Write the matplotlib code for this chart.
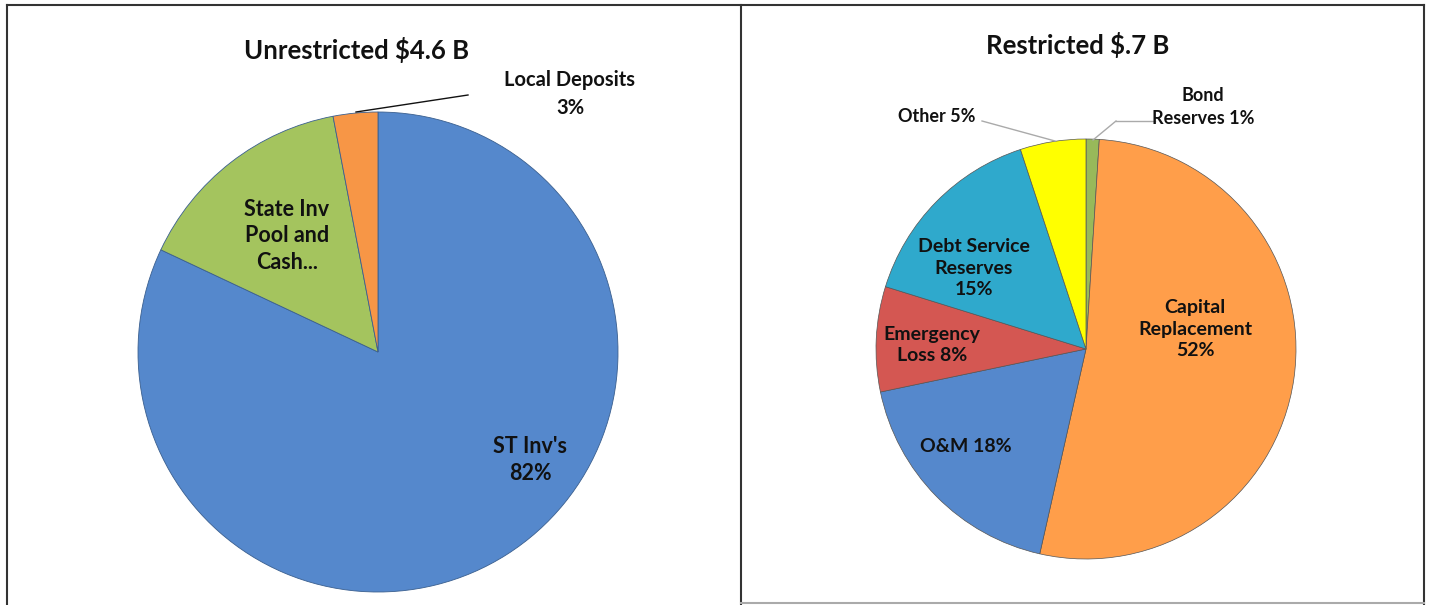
import matplotlib.pyplot as plt

plt.rcParams['font.family'] = ['Lato', 'DejaVu Sans']

# left pie: unrestricted
unr_labels = ["ST Inv's", "State Inv Pool and Cash...", "Local Deposits"]
unr_values = [82, 15, 3]
unr_colors = ['#5588CC', '#A4C45E', '#F79646']

# right pie: restricted
res_labels = ['Bond Reserves', 'Capital Replacement', 'O&M', 'Emergency Loss',
              'Debt Service Reserves', 'Other']
res_values = [1, 52, 18, 8, 15, 5]
res_colors = ['#98B95A', '#FF9E4A', '#5588CC', '#D45752', '#2FA9CC', '#FFFF00']

W, H = 1429, 605
fig = plt.figure(figsize=(W / 100, H / 100), dpi=100)
ax = fig.add_axes([0, 0, 1, 1])

def Y(y):
    return H - y

ax.pie(unr_values, colors=unr_colors, startangle=90, counterclock=False,
       center=(378, Y(352)), radius=240, frame=True,
       wedgeprops=dict(edgecolor='#3A5F8F', linewidth=0.6))
ax.pie(res_values, colors=res_colors, startangle=90, counterclock=False,
       center=(1086, Y(349)), radius=210, frame=True,
       wedgeprops=dict(edgecolor='#555555', linewidth=0.5))

ax.set_xlim(0, W)
ax.set_ylim(0, H)
ax.set_aspect('equal')
ax.axis('off')

# panel frames
ax.plot([7, 7], [Y(605), Y(5)], color='#333333', lw=1.5)
ax.plot([7, 1424], [Y(5), Y(5)], color='#333333', lw=1.5)
ax.plot([741, 741], [Y(605), Y(5)], color='#333333', lw=1.5)
ax.plot([1424, 1424], [Y(605), Y(5)], color='#333333', lw=1.5)
ax.plot([741, 1424], [Y(603), Y(603)], color='#AAAAAA', lw=1.5)

tk = dict(ha='center', va='center', fontweight='bold', color='#111111')

ax.text(357, Y(50), 'Unrestricted $4.6 B', fontsize=18.5, **tk)
ax.text(1078, Y(45), 'Restricted $.7 B', fontsize=18.5, **tk)

ax.text(530, Y(460), "ST Inv's\n82%", fontsize=15.5, linespacing=1.35, **tk)
ax.text(287, Y(236), 'State Inv\nPool and\nCash...', fontsize=15.5, linespacing=1.35, **tk)
ax.text(570, Y(94), 'Local Deposits\n3%', fontsize=14.5, linespacing=1.45, **tk)
ax.plot([356, 468], [Y(112), Y(95)], color='#111111', lw=1)

ax.text(1195, Y(329), 'Capital\nReplacement\n52%', fontsize=14, linespacing=1.35, **tk)
ax.text(966, Y(447), 'O&M 18%', fontsize=14, **tk)
ax.text(932, Y(345), 'Emergency\nLoss 8%', fontsize=14, linespacing=1.35, **tk)
ax.text(974, Y(268), 'Debt Service\nReserves\n15%', fontsize=14, linespacing=1.35, **tk)
ax.text(937, Y(117), 'Other 5%', fontsize=13, **tk)
ax.text(1203, Y(107), 'Bond\nReserves 1%', fontsize=13, linespacing=1.45, **tk)
ax.plot([982, 1055], [Y(121), Y(141)], color='#AAAAAA', lw=1)
ax.plot([1093, 1116], [Y(140), Y(121)], color='#AAAAAA', lw=1)
ax.plot([1116, 1155], [Y(121), Y(121)], color='#AAAAAA', lw=1)

fig.savefig('out.png', dpi=100)
